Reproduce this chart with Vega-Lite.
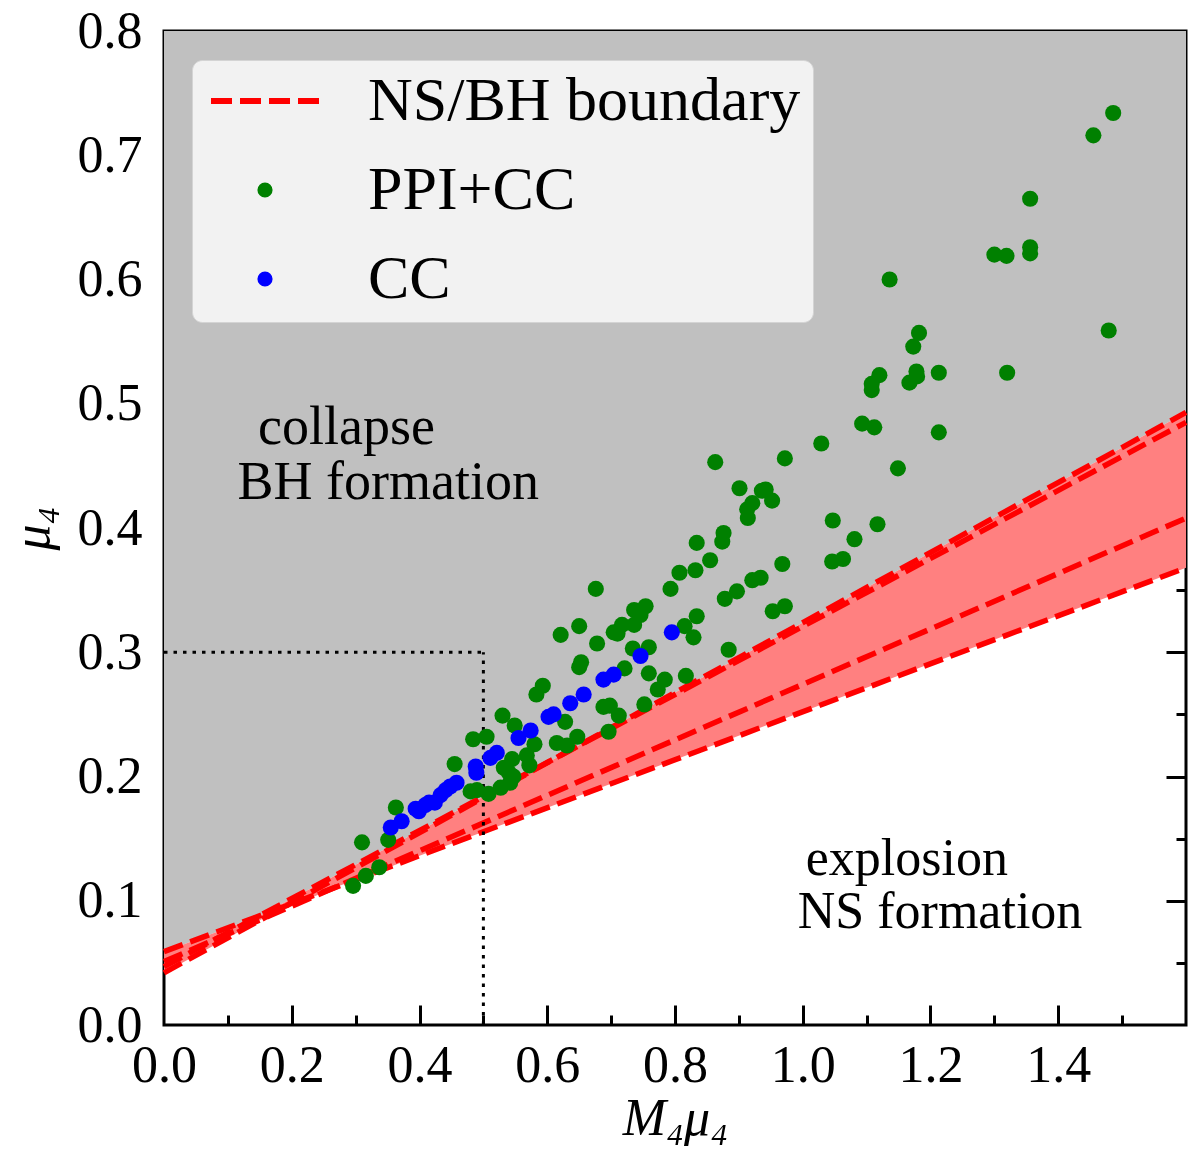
{
  "$schema": "https://vega.github.io/schema/vega-lite/v6.json",
  "width": 1022,
  "height": 994,
  "autosize": {"type": "none"},
  "padding": {"left": 164, "top": 31, "right": 14, "bottom": 136},
  "background": "white",
  "datasets": {
    "band": [
      {"x": 0, "lo": 0.042, "hi": 0.059},
      {"x": 0.1488, "lo": 0.0839, "hi": 0.0877},
      {"x": 0.153, "lo": 0.0851, "hi": 0.0889},
      {"x": 0.2667, "lo": 0.1105, "hi": 0.12},
      {"x": 0.6135, "lo": 0.1775, "hi": 0.2149},
      {"x": 1.6, "lo": 0.368, "hi": 0.493}
    ],
    "boundary": [
      {"line": "L1", "x": 0, "y": 0.042}, {"line": "L1", "x": 1.6, "y": 0.493},
      {"line": "L2", "x": 0, "y": 0.047}, {"line": "L2", "x": 1.6, "y": 0.485},
      {"line": "L3", "x": 0, "y": 0.051}, {"line": "L3", "x": 1.6, "y": 0.408},
      {"line": "L4", "x": 0, "y": 0.059}, {"line": "L4", "x": 1.6, "y": 0.368}
    ],
    "guides": [
      {"x": 0, "x2": 0.5, "y": 0.3, "y2": 0.3},
      {"x": 0.5, "x2": 0.5, "y": 0, "y2": 0.3}
    ],
    "models": [
      {"series": "PPI+CC", "x": 0.863, "y": 0.453}, {"series": "PPI+CC", "x": 0.972, "y": 0.456},
      {"series": "PPI+CC", "x": 1.029, "y": 0.468}, {"series": "PPI+CC", "x": 1.093, "y": 0.484},
      {"series": "PPI+CC", "x": 1.112, "y": 0.481}, {"series": "PPI+CC", "x": 0.901, "y": 0.432},
      {"series": "PPI+CC", "x": 0.936, "y": 0.430}, {"series": "PPI+CC", "x": 0.942, "y": 0.431},
      {"series": "PPI+CC", "x": 0.952, "y": 0.422}, {"series": "PPI+CC", "x": 0.921, "y": 0.420},
      {"series": "PPI+CC", "x": 0.913, "y": 0.415}, {"series": "PPI+CC", "x": 0.914, "y": 0.408},
      {"series": "PPI+CC", "x": 1.047, "y": 0.406}, {"series": "PPI+CC", "x": 1.117, "y": 0.403},
      {"series": "PPI+CC", "x": 0.876, "y": 0.396}, {"series": "PPI+CC", "x": 0.874, "y": 0.389},
      {"series": "PPI+CC", "x": 0.834, "y": 0.388}, {"series": "PPI+CC", "x": 1.081, "y": 0.391},
      {"series": "PPI+CC", "x": 0.855, "y": 0.374}, {"series": "PPI+CC", "x": 0.832, "y": 0.366},
      {"series": "PPI+CC", "x": 0.807, "y": 0.364}, {"series": "PPI+CC", "x": 0.968, "y": 0.371},
      {"series": "PPI+CC", "x": 1.046, "y": 0.373}, {"series": "PPI+CC", "x": 1.063, "y": 0.375},
      {"series": "PPI+CC", "x": 0.793, "y": 0.351}, {"series": "PPI+CC", "x": 0.676, "y": 0.351},
      {"series": "PPI+CC", "x": 0.878, "y": 0.343}, {"series": "PPI+CC", "x": 0.897, "y": 0.349},
      {"series": "PPI+CC", "x": 0.921, "y": 0.358}, {"series": "PPI+CC", "x": 0.934, "y": 0.360},
      {"series": "PPI+CC", "x": 0.953, "y": 0.333}, {"series": "PPI+CC", "x": 0.972, "y": 0.337},
      {"series": "PPI+CC", "x": 0.834, "y": 0.329}, {"series": "PPI+CC", "x": 0.815, "y": 0.321},
      {"series": "PPI+CC", "x": 0.829, "y": 0.312}, {"series": "PPI+CC", "x": 0.884, "y": 0.302},
      {"series": "PPI+CC", "x": 0.736, "y": 0.334}, {"series": "PPI+CC", "x": 0.754, "y": 0.337},
      {"series": "PPI+CC", "x": 0.746, "y": 0.330}, {"series": "PPI+CC", "x": 0.717, "y": 0.322},
      {"series": "PPI+CC", "x": 0.704, "y": 0.316}, {"series": "PPI+CC", "x": 0.710, "y": 0.315},
      {"series": "PPI+CC", "x": 0.736, "y": 0.322}, {"series": "PPI+CC", "x": 0.650, "y": 0.321},
      {"series": "PPI+CC", "x": 0.621, "y": 0.314}, {"series": "PPI+CC", "x": 0.678, "y": 0.307},
      {"series": "PPI+CC", "x": 0.734, "y": 0.303}, {"series": "PPI+CC", "x": 0.759, "y": 0.304},
      {"series": "PPI+CC", "x": 0.653, "y": 0.292}, {"series": "PPI+CC", "x": 0.650, "y": 0.288},
      {"series": "PPI+CC", "x": 0.721, "y": 0.287}, {"series": "PPI+CC", "x": 0.759, "y": 0.283},
      {"series": "PPI+CC", "x": 0.817, "y": 0.281}, {"series": "PPI+CC", "x": 0.784, "y": 0.278},
      {"series": "PPI+CC", "x": 0.773, "y": 0.270}, {"series": "PPI+CC", "x": 0.688, "y": 0.256},
      {"series": "PPI+CC", "x": 0.698, "y": 0.257}, {"series": "PPI+CC", "x": 0.752, "y": 0.258},
      {"series": "PPI+CC", "x": 0.712, "y": 0.249}, {"series": "PPI+CC", "x": 0.628, "y": 0.244},
      {"series": "PPI+CC", "x": 0.696, "y": 0.236}, {"series": "PPI+CC", "x": 0.647, "y": 0.232},
      {"series": "PPI+CC", "x": 0.310, "y": 0.147}, {"series": "PPI+CC", "x": 0.351, "y": 0.149},
      {"series": "PPI+CC", "x": 0.363, "y": 0.175}, {"series": "PPI+CC", "x": 0.296, "y": 0.112},
      {"series": "PPI+CC", "x": 0.316, "y": 0.120}, {"series": "PPI+CC", "x": 0.337, "y": 0.127},
      {"series": "PPI+CC", "x": 0.455, "y": 0.210}, {"series": "PPI+CC", "x": 0.484, "y": 0.230},
      {"series": "PPI+CC", "x": 0.505, "y": 0.232}, {"series": "PPI+CC", "x": 0.530, "y": 0.249},
      {"series": "PPI+CC", "x": 0.549, "y": 0.241}, {"series": "PPI+CC", "x": 0.583, "y": 0.266},
      {"series": "PPI+CC", "x": 0.593, "y": 0.273}, {"series": "PPI+CC", "x": 0.615, "y": 0.227},
      {"series": "PPI+CC", "x": 0.631, "y": 0.225}, {"series": "PPI+CC", "x": 0.580, "y": 0.226},
      {"series": "PPI+CC", "x": 0.568, "y": 0.217}, {"series": "PPI+CC", "x": 0.572, "y": 0.209},
      {"series": "PPI+CC", "x": 0.545, "y": 0.214}, {"series": "PPI+CC", "x": 0.532, "y": 0.207},
      {"series": "PPI+CC", "x": 0.540, "y": 0.203}, {"series": "PPI+CC", "x": 0.547, "y": 0.200},
      {"series": "PPI+CC", "x": 0.542, "y": 0.195}, {"series": "PPI+CC", "x": 0.527, "y": 0.191},
      {"series": "PPI+CC", "x": 0.480, "y": 0.188}, {"series": "PPI+CC", "x": 0.490, "y": 0.189},
      {"series": "PPI+CC", "x": 0.508, "y": 0.186}, {"series": "PPI+CC", "x": 1.486, "y": 0.734},
      {"series": "PPI+CC", "x": 1.455, "y": 0.716}, {"series": "PPI+CC", "x": 1.356, "y": 0.665},
      {"series": "PPI+CC", "x": 1.356, "y": 0.626}, {"series": "PPI+CC", "x": 1.356, "y": 0.621},
      {"series": "PPI+CC", "x": 1.300, "y": 0.620}, {"series": "PPI+CC", "x": 1.319, "y": 0.619},
      {"series": "PPI+CC", "x": 1.136, "y": 0.600}, {"series": "PPI+CC", "x": 1.479, "y": 0.559},
      {"series": "PPI+CC", "x": 1.182, "y": 0.557}, {"series": "PPI+CC", "x": 1.173, "y": 0.546},
      {"series": "PPI+CC", "x": 1.120, "y": 0.523}, {"series": "PPI+CC", "x": 1.108, "y": 0.516},
      {"series": "PPI+CC", "x": 1.108, "y": 0.511}, {"series": "PPI+CC", "x": 1.178, "y": 0.526},
      {"series": "PPI+CC", "x": 1.179, "y": 0.522}, {"series": "PPI+CC", "x": 1.167, "y": 0.517},
      {"series": "PPI+CC", "x": 1.213, "y": 0.525}, {"series": "PPI+CC", "x": 1.320, "y": 0.525},
      {"series": "PPI+CC", "x": 1.213, "y": 0.477}, {"series": "PPI+CC", "x": 1.149, "y": 0.448},
      {"series": "CC", "x": 0.355, "y": 0.159}, {"series": "CC", "x": 0.372, "y": 0.164},
      {"series": "CC", "x": 0.394, "y": 0.174}, {"series": "CC", "x": 0.399, "y": 0.172},
      {"series": "CC", "x": 0.409, "y": 0.177}, {"series": "CC", "x": 0.415, "y": 0.179},
      {"series": "CC", "x": 0.424, "y": 0.179}, {"series": "CC", "x": 0.433, "y": 0.185},
      {"series": "CC", "x": 0.441, "y": 0.189}, {"series": "CC", "x": 0.448, "y": 0.192},
      {"series": "CC", "x": 0.458, "y": 0.195}, {"series": "CC", "x": 0.488, "y": 0.208},
      {"series": "CC", "x": 0.489, "y": 0.203}, {"series": "CC", "x": 0.511, "y": 0.215},
      {"series": "CC", "x": 0.521, "y": 0.219}, {"series": "CC", "x": 0.555, "y": 0.231},
      {"series": "CC", "x": 0.574, "y": 0.237}, {"series": "CC", "x": 0.602, "y": 0.248},
      {"series": "CC", "x": 0.610, "y": 0.250}, {"series": "CC", "x": 0.636, "y": 0.259},
      {"series": "CC", "x": 0.657, "y": 0.266}, {"series": "CC", "x": 0.688, "y": 0.278},
      {"series": "CC", "x": 0.704, "y": 0.282}, {"series": "CC", "x": 0.746, "y": 0.297},
      {"series": "CC", "x": 0.795, "y": 0.316}
    ]
  },
  "resolve": {"axis": {"x": "independent", "y": "independent"}},
  "layer": [
    {
      "data": {"name": "band"},
      "mark": {"type": "area", "color": "#c0c0c0"},
      "encoding": {
        "x": {
          "field": "x", "type": "quantitative",
          "scale": {"domain": [0, 1.6], "nice": false, "zero": false},
          "axis": {"orient": "bottom", "values": [0, 0.2, 0.4, 0.6, 0.8, 1.0, 1.2, 1.4], "format": ".1f",
                   "ticks": false, "labelPadding": 15, "labelFlush": false, "labelOverlap": false,
                   "title": "M₄μ₄", "titlePadding": 2}
        },
        "y": {
          "field": "hi", "type": "quantitative",
          "scale": {"domain": [0, 0.8], "nice": false, "zero": false},
          "axis": {"orient": "left", "values": [0, 0.1, 0.2, 0.3, 0.4, 0.5, 0.6, 0.7, 0.8], "format": ".1f",
                   "ticks": false, "labelPadding": 22, "labelOverlap": false,
                   "title": "μ₄", "titlePadding": 18}
        },
        "y2": {"datum": 0.8}
      }
    },
    {
      "data": {"name": "band"},
      "mark": {"type": "area", "color": "#ff8080"},
      "encoding": {
        "x": {"field": "x", "type": "quantitative",
              "axis": {"orient": "bottom", "values": [0.2, 0.4, 0.6, 0.8, 1.0, 1.2, 1.4], "labels": false, "tickSize": -20, "title": null}},
        "y": {"field": "hi", "type": "quantitative",
              "axis": {"orient": "left", "values": [0.1, 0.2, 0.3, 0.4, 0.5, 0.6, 0.7], "labels": false, "tickSize": -20, "title": null}},
        "y2": {"field": "lo"}
      }
    },
    {
      "data": {"name": "boundary"},
      "mark": {"type": "line", "color": "#ff0000", "strokeWidth": 5.5, "strokeDash": [20, 8]},
      "encoding": {
        "x": {"field": "x", "type": "quantitative",
              "axis": {"orient": "bottom", "values": [0.1, 0.3, 0.5, 0.7, 0.9, 1.1, 1.3, 1.5], "labels": false, "tickSize": -10, "title": null}},
        "y": {"field": "y", "type": "quantitative",
              "axis": {"orient": "left", "values": [0.05, 0.15, 0.25, 0.35, 0.45, 0.55, 0.65, 0.75], "labels": false, "tickSize": -10, "title": null}},
        "detail": {"field": "line"}
      }
    },
    {
      "data": {"name": "guides"},
      "mark": {"type": "rule", "color": "black", "strokeWidth": 3, "strokeDash": [3.5, 6]},
      "encoding": {
        "x": {"field": "x", "type": "quantitative",
              "axis": {"orient": "top", "values": [0.2, 0.4, 0.6, 0.8, 1.0, 1.2, 1.4], "labels": false, "tickSize": -20, "title": null}},
        "x2": {"field": "x2"},
        "y": {"field": "y", "type": "quantitative",
              "axis": {"orient": "right", "values": [0.1, 0.2, 0.3, 0.4, 0.5, 0.6, 0.7], "labels": false, "tickSize": -20, "title": null}},
        "y2": {"field": "y2"}
      }
    },
    {
      "data": {"name": "models"},
      "mark": {"type": "point", "filled": true, "size": 260, "opacity": 1},
      "encoding": {
        "x": {"field": "x", "type": "quantitative",
              "axis": {"orient": "top", "values": [0.1, 0.3, 0.5, 0.7, 0.9, 1.1, 1.3, 1.5], "labels": false, "tickSize": -10, "title": null}},
        "y": {"field": "y", "type": "quantitative",
              "axis": {"orient": "right", "values": [0.05, 0.15, 0.25, 0.35, 0.45, 0.55, 0.65, 0.75], "labels": false, "tickSize": -10, "title": null}},
        "color": {
          "field": "series", "type": "nominal",
          "scale": {"domain": ["NS/BH boundary", "PPI+CC", "CC"], "range": ["#ff0000", "#008000", "#0000ff"]},
          "legend": {
            "orient": "none", "legendX": 28, "legendY": 29,
            "title": null,
            "padding": 12,
            "fillColor": "#f2f2f2", "strokeColor": "#d4d4d4", "cornerRadius": 10,
            "labelFont": "Liberation Serif", "labelFontSize": 62, "labelColor": "black", "labelLimit": 1000,
            "labelOffset": 72,
            "rowPadding": 27,
            "clipHeight": 58,
            "symbolSize": 11664,
            "symbolOffset": 30,
            "symbolOpacity": 1,
            "symbolStrokeWidth": 6,
            "encoding": {
              "symbols": {
                "shape": {"value": {"expr": "datum.value === 'NS/BH boundary' ? 'stroke' : 'circle'"}},
                "size": {"value": {"expr": "datum.value === 'NS/BH boundary' ? 11664 : 230"}},
                "stroke": {"value": {"expr": "datum.value === 'NS/BH boundary' ? '#ff0000' : 'transparent'"}},
                "strokeDash": {"value": {"expr": "datum.value === 'NS/BH boundary' ? [21, 8] : [1, 0]"}},
                "strokeWidth": {"value": 6}
              }
            }
          }
        }
      }
    },
    {
      "data": {"values": [{}]},
      "mark": {"type": "text", "text": "collapse", "font": "Liberation Serif", "fontSize": 54, "align": "center", "baseline": "alphabetic", "color": "black"},
      "encoding": {
        "x": {"datum": 0.2856, "type": "quantitative", "axis": null},
        "y": {"datum": 0.468, "type": "quantitative", "axis": null}
      }
    },
    {
      "data": {"values": [{}]},
      "mark": {"type": "text", "text": "BH formation", "font": "Liberation Serif", "fontSize": 54, "align": "center", "baseline": "alphabetic", "color": "black"},
      "encoding": {
        "x": {"datum": 0.351, "type": "quantitative", "axis": null},
        "y": {"datum": 0.423, "type": "quantitative", "axis": null}
      }
    },
    {
      "data": {"values": [{}]},
      "mark": {"type": "text", "text": "explosion", "font": "Liberation Serif", "fontSize": 52, "align": "center", "baseline": "alphabetic", "color": "black"},
      "encoding": {
        "x": {"datum": 1.163, "type": "quantitative", "axis": null},
        "y": {"datum": 0.1205, "type": "quantitative", "axis": null}
      }
    },
    {
      "data": {"values": [{}]},
      "mark": {"type": "text", "text": "NS formation", "font": "Liberation Serif", "fontSize": 52, "align": "center", "baseline": "alphabetic", "color": "black"},
      "encoding": {
        "x": {"datum": 1.215, "type": "quantitative", "axis": null},
        "y": {"datum": 0.078, "type": "quantitative", "axis": null}
      }
    }
  ],
  "config": {
    "view": {"stroke": "black", "strokeWidth": 3},
    "font": "Liberation Serif",
    "axis": {
      "grid": false, "domain": false, "zindex": 1,
      "labelFont": "Liberation Serif", "labelFontSize": 52, "labelColor": "black",
      "tickColor": "black", "tickWidth": 3,
      "titleFont": "Liberation Serif", "titleFontSize": 52, "titleFontWeight": "normal",
      "titleFontStyle": "italic", "titleColor": "black"
    }
  }
}
